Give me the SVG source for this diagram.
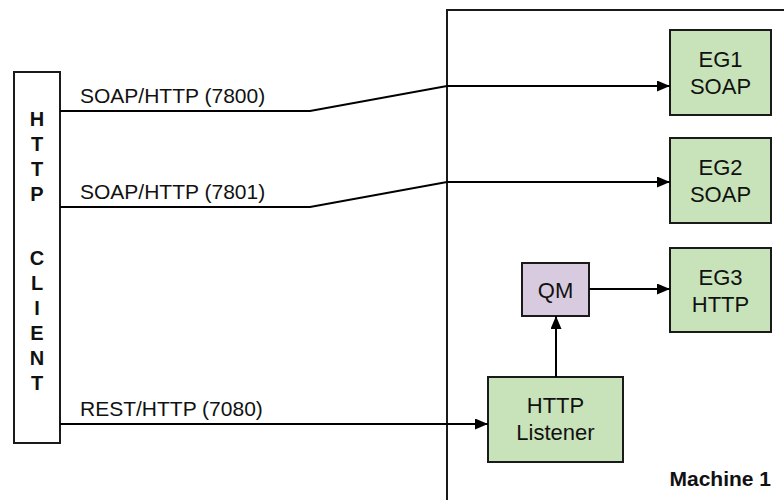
<svg xmlns="http://www.w3.org/2000/svg" width="784" height="500" viewBox="0 0 784 500">
<defs>
<marker id="arr" viewBox="0 0 13 11" refX="13" refY="5.5" markerWidth="13" markerHeight="11" markerUnits="userSpaceOnUse" orient="auto">
<path d="M0,0 L13,5.5 L0,11 Z" fill="#000"/>
</marker>
<style>
.box{stroke:#1a1a1a;stroke-width:2}
.green{fill:#c8e3b9}
.purple{fill:#d9cbdf}
.t{font-family:"Liberation Sans",Arial,sans-serif;fill:#111}
.node{font-size:22px;text-anchor:middle}
.lbl{font-size:21px}
.b{font-weight:bold}
.conn{fill:none;stroke:#000;stroke-width:2}
</style>
</defs>
<rect width="784" height="500" fill="#fff"/>
<g id="machine1">
<rect x="447" y="10" width="400" height="600" fill="none" class="box"/>
<text class="t b" x="771" y="486" font-size="21" text-anchor="end">Machine 1</text>
</g>
<g id="http-client">
<rect x="14" y="72" width="46" height="371" fill="#fff" class="box"/>
<g class="t b" font-size="20" text-anchor="middle">
<text x="37" y="126">H</text>
<text x="37" y="151">T</text>
<text x="37" y="176">T</text>
<text x="37" y="201">P</text>
<text x="37" y="265">C</text>
<text x="37" y="290">L</text>
<text x="37" y="315">I</text>
<text x="37" y="340">E</text>
<text x="37" y="365">N</text>
<text x="37" y="390">T</text>
</g>
</g>
<g id="eg1">
<rect x="670" y="30" width="101" height="85" class="box green"/>
<text class="t node" x="720.5" y="67">EG1</text>
<text class="t node" x="720.5" y="94">SOAP</text>
</g>
<g id="eg2">
<rect x="670" y="138" width="101" height="85" class="box green"/>
<text class="t node" x="720.5" y="175">EG2</text>
<text class="t node" x="720.5" y="202">SOAP</text>
</g>
<g id="eg3">
<rect x="670" y="248" width="101" height="84" class="box green"/>
<text class="t node" x="720.5" y="284.5">EG3</text>
<text class="t node" x="720.5" y="311.5">HTTP</text>
</g>
<g id="qm">
<rect x="522" y="263" width="67" height="53" class="box purple"/>
<text class="t node" x="555.5" y="297.5">QM</text>
</g>
<g id="http-listener">
<rect x="488" y="377" width="135" height="85" class="box green"/>
<text class="t node" x="555.5" y="413">HTTP</text>
<text class="t node" x="555.5" y="440">Listener</text>
</g>
<g id="connectors">
<polyline class="conn" points="60,111 310,111 447,86 670,86" marker-end="url(#arr)"/>
<polyline class="conn" points="60,207 310,207 447,182 670,182" marker-end="url(#arr)"/>
<line class="conn" x1="60" y1="424" x2="488" y2="424" marker-end="url(#arr)"/>
<line class="conn" x1="556" y1="377" x2="556" y2="316" marker-end="url(#arr)"/>
<line class="conn" x1="589" y1="289" x2="670" y2="289" marker-end="url(#arr)"/>
<text class="t lbl" x="80" y="102.7">SOAP/HTTP (7800)</text>
<text class="t lbl" x="80" y="199">SOAP/HTTP (7801)</text>
<text class="t lbl" x="80" y="415.7">REST/HTTP (7080)</text>
</g>
</svg>
